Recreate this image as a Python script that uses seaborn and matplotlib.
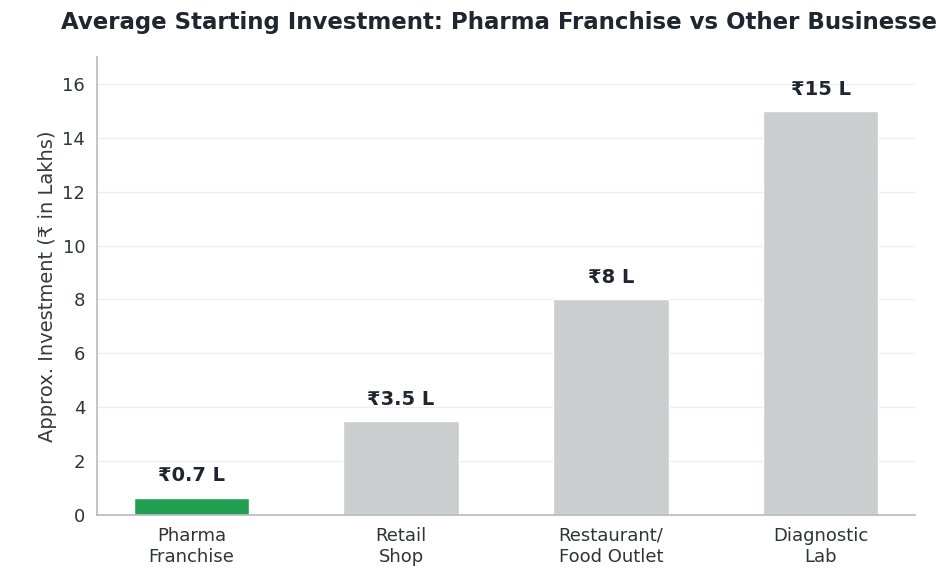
import matplotlib
matplotlib.use("Agg")
import matplotlib.pyplot as plt
import seaborn as sns
import pandas as pd

# chart data
categories = ["Pharma\nFranchise", "Retail\nShop", "Restaurant/\nFood Outlet", "Diagnostic\nLab"]
investment = [0.65, 3.5, 8, 15]
value_labels = ["₹0.7 L", "₹3.5 L", "₹8 L", "₹15 L"]
bar_colors = ["#22a052", "#cbcecf", "#cbcecf", "#cbcecf"]

df = pd.DataFrame({"business": categories, "investment": investment})

sns.set_style("white")
plt.rcParams["font.family"] = ["DejaVu Sans"]

fig = plt.figure(figsize=(9.36, 5.79), dpi=100)
ax = fig.add_axes([0.1036, 0.1105, 0.874, 0.791])

sns.barplot(
    data=df,
    x="business",
    y="investment",
    hue="business",
    palette=bar_colors,
    saturation=1,
    legend=False,
    width=0.55,
    edgecolor="white",
    linewidth=1,
    ax=ax,
)

# labels above each bar
for i, (val, lab) in enumerate(zip(investment, value_labels)):
    ax.text(i, val + 0.45, lab, ha="center", va="bottom",
            fontsize=14, fontweight="bold", color="#1f2630")

ax.set_xlim(-0.45, 3.45)
ax.set_ylim(0, 17)
ax.set_yticks([0, 2, 4, 6, 8, 10, 12, 14, 16])

ax.set_title("Average Starting Investment: Pharma Franchise vs Other Businesses",
             fontsize=16.5, fontweight="bold", color="#1f2630", pad=20)
ax.set_xlabel("")
ax.set_ylabel("Approx. Investment (₹ in Lakhs)", fontsize=14, color="#333a40")

ax.yaxis.grid(True, color="#eceef0", linewidth=1)
ax.set_axisbelow(True)

for side in ["top", "right"]:
    ax.spines[side].set_visible(False)
for side in ["left", "bottom"]:
    ax.spines[side].set_color("#b4bcc2")
    ax.spines[side].set_linewidth(1.2)

ax.tick_params(axis="both", colors="#555b60", labelcolor="#2e3438",
               labelsize=13, length=5, width=1)

fig.savefig("out.png", dpi=100)
